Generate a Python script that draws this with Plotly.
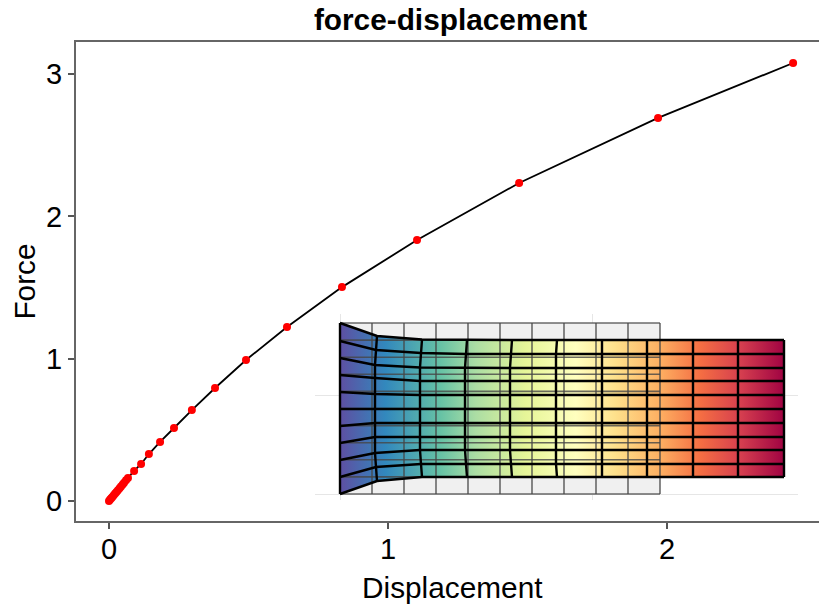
import plotly.graph_objects as go

# force-displacement curve
displacement = [0, 0.004, 0.008, 0.012, 0.017, 0.022, 0.027, 0.032, 0.038, 0.043, 0.049, 0.054, 0.061, 0.068,
                0.090, 0.115, 0.143, 0.183, 0.233, 0.297, 0.380, 0.491, 0.638, 0.835, 1.104, 1.470, 1.968, 2.452]
force = [0, 0.010, 0.019, 0.028, 0.040, 0.052, 0.064, 0.076, 0.090, 0.102, 0.116, 0.128, 0.145, 0.162,
         0.211, 0.260, 0.330, 0.415, 0.513, 0.639, 0.794, 0.991, 1.223, 1.503, 1.834, 2.235, 2.692, 3.078]

# inset mesh: undeformed grid lines
ref_x = [0, 32, 64, 96, 128, 160, 192, 224, 256, 288, 320]
ref_y = [0, 17.1, 34.2, 51.3, 68.4, 85.5, 102.6, 119.7, 136.8, 153.9, 171]

# inset mesh: deformed node x for each row (top to bottom)
x_r0 = [0, 37, 82, 127, 172, 217, 262, 307, 353, 398, 444]
x_r1 = [0, 36, 81, 126, 171, 216, 262, 307, 353, 398, 444]
x_r2 = [0, 35, 80, 125, 170, 216, 262, 307, 353, 398, 444]
node_x = [x_r0, x_r1, x_r2, x_r2, x_r2, x_r2, x_r2, x_r2, x_r2, x_r1, x_r0]

# inset mesh: deformed node y for each column (top to bottom)
y_c0 = [171, 153, 136, 119, 102, 85, 68, 51, 34, 17, 0]
y_c1 = [158, 144, 129, 116, 100, 85, 71, 57, 41, 27, 13]
y_c2 = [154.5, 141, 126.5, 113, 99, 85, 71, 57, 44, 30, 17]
y_c3 = [154, 140, 126, 113, 99, 85, 71, 57, 44, 30, 17]
node_y = [y_c0, y_c1, y_c2, y_c3, y_c3, y_c3, y_c3, y_c3, y_c3, y_c3, y_c3]

spectral = ["#5e4fa2", "#3288bd", "#66c2a5", "#abdda4", "#e6f598", "#ffffbf",
            "#fee08b", "#fdae61", "#f46d43", "#d53e4f", "#9e0142"]
color_at_x = [0, 45, 100, 135, 185, 235, 275, 320, 360, 400, 444]

n = len(ref_x)
fig = go.Figure()

fig.add_trace(go.Scatter(x=displacement, y=force, mode="lines+markers",
                         line=dict(color="black", width=1.8),
                         marker=dict(color="#ff0000", size=8),
                         hoverinfo="skip", showlegend=False))

# undeformed fill
fig.add_trace(go.Scatter(x=[ref_x[0], ref_x[-1], ref_x[-1], ref_x[0], ref_x[0]],
                         y=[ref_y[0], ref_y[0], ref_y[-1], ref_y[-1], ref_y[0]],
                         xaxis="x2", yaxis="y2", mode="none", fill="toself",
                         fillcolor="#f0f0f0", showlegend=False, hoverinfo="skip"))

# deformed fill with a horizontal gradient
ox = node_x[0] + [row[-1] for row in node_x[1:]] + node_x[-1][::-1][1:] + [row[0] for row in node_x[::-1][1:]]
oy = [c[0] for c in node_y] + node_y[-1][1:] + [c[-1] for c in node_y][::-1][1:] + node_y[0][::-1][1:]
xmax = color_at_x[-1]
scale = [[color_at_x[i] / xmax, spectral[i]] for i in range(n)]
fig.add_trace(go.Scatter(x=ox, y=oy, xaxis="x2", yaxis="y2", mode="none", fill="toself",
                         fillgradient=dict(type="horizontal", colorscale=scale, start=0, stop=xmax),
                         showlegend=False, hoverinfo="skip"))

# undeformed lines
lx, ly = [], []
for xv in ref_x:
    lx += [xv, xv, None]
    ly += [ref_y[0], ref_y[-1], None]
for yv in ref_y:
    lx += [ref_x[0], ref_x[-1], None]
    ly += [yv, yv, None]
fig.add_trace(go.Scatter(x=lx, y=ly, xaxis="x2", yaxis="y2", mode="lines",
                         line=dict(color="rgba(70,70,70,0.8)", width=1.6),
                         showlegend=False, hoverinfo="skip"))

# deformed lines
dx, dy = [], []
for r in range(n):
    dx += node_x[r] + [None]
    dy += [node_y[c][r] for c in range(n)] + [None]
for c in range(n):
    dx += [node_x[r][c] for r in range(n)] + [None]
    dy += node_y[c] + [None]
fig.add_trace(go.Scatter(x=dx, y=dy, xaxis="x2", yaxis="y2", mode="lines",
                         line=dict(color="black", width=2.4),
                         showlegend=False, hoverinfo="skip"))

W, H = 832, 606
L, R, T, B = 76, 828, 42, 521
FONT = "Liberation Sans"
fig.update_layout(
    width=W, height=H, autosize=False,
    margin=dict(l=L, r=W - R - 2, t=T, b=H - B),
    paper_bgcolor="white", plot_bgcolor="white",
    font=dict(family=FONT, color="black"),
    title=dict(text="<b>force-displacement</b>", font=dict(size=29.8, family=FONT, color="black"),
               x=450.5 / W, xanchor="center", y=1 - 20 / H, yanchor="middle"),
    xaxis=dict(range=[(L - 109) / 279, (R - 109) / 279], tickvals=[0, 1, 2], showgrid=False, zeroline=False,
               ticks="outside", ticklen=6, tickwidth=1.5, tickcolor="#555",
               showline=True, mirror=True, linecolor="#666", linewidth=2,
               tickfont=dict(size=29), ticklabelstandoff=-5),
    yaxis=dict(range=[(501 - B) / 142.3, (501 - T) / 142.3], tickvals=[0, 1, 2, 3], showgrid=False, zeroline=False,
               ticks="outside", ticklen=6, tickwidth=1.5, tickcolor="#555",
               showline=True, mirror=True, linecolor="#666", linewidth=2,
               tickfont=dict(size=29), title=dict(text="Force", font=dict(size=29.8), standoff=2)),
    xaxis2=dict(domain=[(315 - L) / (R - L), (798 - L) / (R - L)], range=[-25, 458],
                anchor="y2", tickvals=[0, 252], showticklabels=False, ticks="", showline=False,
                zeroline=False, showgrid=True, gridcolor="#e6e6e6", gridwidth=1.2),
    yaxis2=dict(domain=[(B - 500) / (B - T), (B - 314) / (B - T)], range=[-6, 180],
                anchor="x2", tickvals=[0, 99], showticklabels=False, ticks="", showline=False,
                zeroline=False, showgrid=True, gridcolor="#e6e6e6", gridwidth=1.2),
    annotations=[dict(text="Displacement", font=dict(size=29.8), showarrow=False,
                      xref="paper", yref="paper", x=(452 - L) / (R - L), xanchor="center",
                      y=-(587 - B) / (B - T), yanchor="middle")],
)
fig.write_html("out.html", config={"displayModeBar": False},
               post_script="document.body.style.margin='0';document.documentElement.style.overflow='hidden';document.body.style.overflow='hidden';")
